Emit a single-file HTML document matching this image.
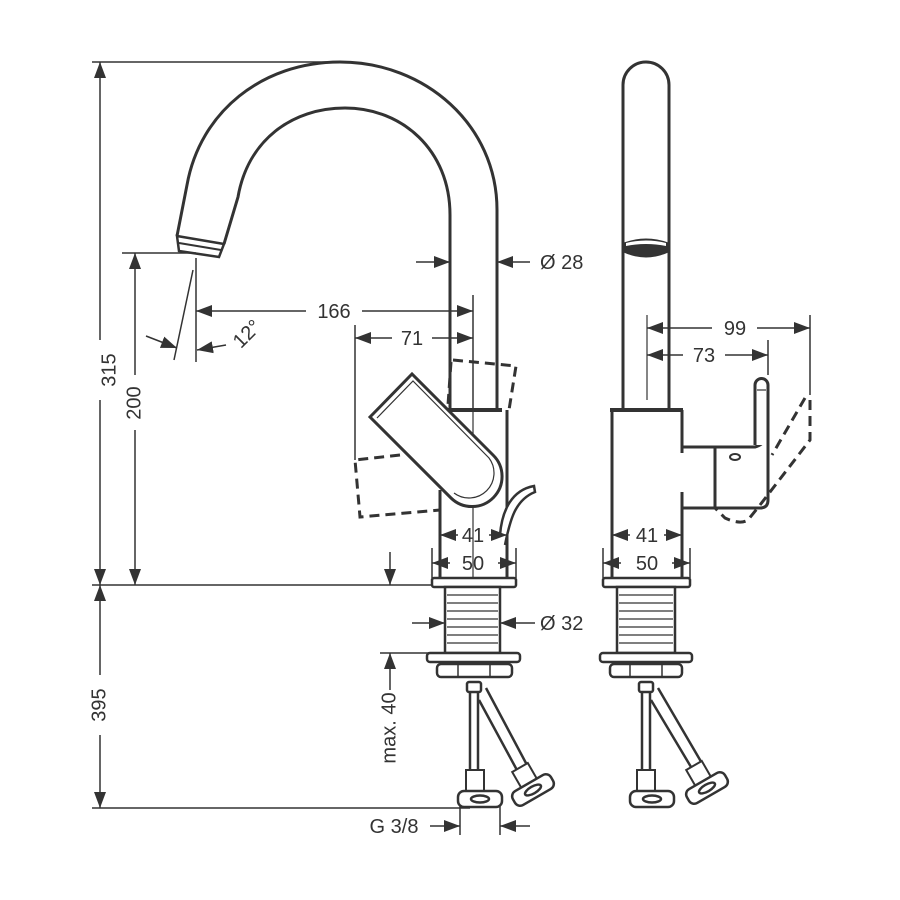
<!DOCTYPE html>
<html><head><meta charset="utf-8"><style>
html,body{margin:0;padding:0;background:#fff}
svg{display:block}
text{font-family:"Liberation Sans",sans-serif;font-size:20px;fill:#333}
</style></head><body>
<svg width="900" height="900" viewBox="0 0 900 900" xmlns="http://www.w3.org/2000/svg">
<defs>
<marker id="a" viewBox="0 0 16 12" refX="16" refY="6" markerWidth="16" markerHeight="12" markerUnits="userSpaceOnUse" orient="auto-start-reverse"><path d="M0 0L16 6L0 12Z" fill="#333"/></marker>
</defs>
<g stroke="#333" fill="none" stroke-width="1.5">
<line x1="92" y1="62" x2="335" y2="62"/>
<line x1="100" y1="62" x2="100" y2="340" marker-start="url(#a)"/>
<line x1="100" y1="400" x2="100" y2="585" marker-end="url(#a)"/>
<line x1="92" y1="585" x2="432" y2="585"/>
<line x1="122" y1="253" x2="196" y2="253"/>
<line x1="135" y1="253" x2="135" y2="375" marker-start="url(#a)"/>
<line x1="135" y1="430" x2="135" y2="585" marker-end="url(#a)"/>
<line x1="100" y1="585" x2="100" y2="675" marker-start="url(#a)"/>
<line x1="100" y1="735" x2="100" y2="808" marker-end="url(#a)"/>
<line x1="92" y1="808" x2="470" y2="808"/>
<line x1="196" y1="258" x2="196" y2="362"/>
<line x1="306" y1="311" x2="196" y2="311" marker-end="url(#a)"/>
<line x1="362" y1="311" x2="473" y2="311" marker-end="url(#a)"/>
<line x1="473" y1="295" x2="473" y2="410"/>
<line x1="355" y1="325" x2="355" y2="460"/>
<line x1="392" y1="338" x2="355" y2="338" marker-end="url(#a)"/>
<line x1="432" y1="338" x2="473" y2="338" marker-end="url(#a)"/>
<line x1="193" y1="270" x2="174" y2="360"/>
<line x1="146" y1="336" x2="177" y2="348" marker-end="url(#a)"/>
<line x1="226" y1="345" x2="197" y2="350" marker-end="url(#a)"/>
<line x1="416" y1="262" x2="450" y2="262" marker-end="url(#a)"/>
<line x1="530" y1="262" x2="497" y2="262" marker-end="url(#a)"/>
</g>
<g stroke="#333" fill="none" stroke-width="3">
<path d="M497 410 L497 210 C497 125 425 62 340 62 C262 62 200 112 187 185 L177 236"/>
<path d="M450 410 L450 215 C450 150 402 108 345 108 C292 108 248 140 238 197 L224 244"/>
<path d="M177 236 L224 244 L219 257 L179 251 Z" stroke-width="2.5"/>
<line x1="179" y1="243" x2="221" y2="250" stroke-width="2"/>
</g>
<g stroke="#333" fill="none">
<line x1="473" y1="410" x2="473" y2="580" stroke-width="1.2"/>
<line x1="448" y1="410" x2="502" y2="410" stroke-width="4"/>
<line x1="440" y1="490" x2="440" y2="580" stroke-width="3"/>
<line x1="507" y1="410" x2="507" y2="580" stroke-width="3"/>
<path d="M453 360 L516 366 L509 410" stroke-width="3" stroke-dasharray="10 6"/>
<line x1="451" y1="362" x2="448" y2="405" stroke-width="3" stroke-dasharray="10 6"/>
<path d="M400 455 L355 460 L360 517 L440 510" stroke-width="3" stroke-dasharray="10 6"/>
<path d="M370 417 L412 374 L493 455 A30 30 0 0 1 451 498 Z" fill="#fff" stroke-width="3"/>
<path d="M377 418 L413 381 L489 458 A25 25 0 0 1 454 493" stroke-width="1.2"/>
<path d="M505 545 C510 520 515 500 535 492 L534 486 C512 490 502 510 500 535" stroke-width="2.5" fill="#fff"/>
</g>
<g stroke="#333" fill="none" stroke-width="1.5">
<line x1="458" y1="535" x2="440" y2="535" marker-end="url(#a)"/>
<line x1="489" y1="535" x2="507" y2="535" marker-end="url(#a)"/>
<line x1="432" y1="548" x2="432" y2="578"/>
<line x1="516" y1="548" x2="516" y2="578"/>
<line x1="450" y1="563" x2="432" y2="563" marker-end="url(#a)"/>
<line x1="498" y1="563" x2="516" y2="563" marker-end="url(#a)"/>
<line x1="390" y1="552" x2="390" y2="585" marker-end="url(#a)"/>
<line x1="380" y1="653" x2="430" y2="653"/>
<line x1="390" y1="690" x2="390" y2="653" marker-end="url(#a)"/>
<line x1="412" y1="623" x2="445" y2="623" marker-end="url(#a)"/>
<line x1="535" y1="623" x2="500" y2="623" marker-end="url(#a)"/>
<line x1="460" y1="800" x2="460" y2="835"/>
<line x1="500" y1="800" x2="500" y2="835"/>
<line x1="430" y1="826" x2="460" y2="826" marker-end="url(#a)"/>
<line x1="530" y1="826" x2="500" y2="826" marker-end="url(#a)"/>
</g>
<g stroke="#333" fill="#fff" stroke-width="2.5">
<rect x="432" y="578" width="84" height="9" rx="2"/>
<rect x="445" y="587" width="55" height="66"/>
<path d="M447 595H498M447 603H498M447 611H498M447 619H498M447 627H498M447 635H498M447 643H498" stroke-width="1.2"/>
<rect x="427" y="653" width="93" height="9" rx="3"/>
<rect x="437" y="664" width="75" height="13" rx="4"/>
<path d="M458 664V677M490 664V677" stroke-width="1.5"/>
<rect x="467" y="682" width="14" height="10" rx="2"/>
<line x1="470" y1="692" x2="470" y2="770"/>
<line x1="478" y1="692" x2="478" y2="770"/>
<path d="M486 688 L527 765 M479 700 L518 772"/>
<rect x="466" y="770" width="18" height="22" stroke-width="2"/>
<rect x="458" y="791" width="44" height="16" rx="6"/>
<ellipse cx="480" cy="799" rx="9" ry="3.5"/>
<g transform="rotate(-30 533 790)"><rect x="524" y="764" width="18" height="18" stroke-width="2"/><rect x="511" y="782" width="44" height="16" rx="6"/><ellipse cx="533" cy="790" rx="9" ry="3.5"/></g>
</g>
<g stroke="#333" fill="none" stroke-width="3">
<path d="M623 410 L623 85 A23 23 0 0 1 669 85 L669 410"/>
<path d="M624 243 Q646 235 668 243 L668 252 Q646 262 624 252 Z" fill="#333" stroke-width="1"/>
<path d="M626 243 Q646 238 666 243 L666 246 Q646 242 626 246 Z" fill="#fff" stroke="none"/>
<line x1="647" y1="315" x2="647" y2="400" stroke-width="1.2"/>
<line x1="610" y1="410" x2="683" y2="410" stroke-width="4"/>
<line x1="612" y1="410" x2="612" y2="580"/>
<path d="M682 410 L682 453 M682 492 L682 580"/>
<path d="M682 447 L755 447 Q762 445 765 440 M682 508 L715 508 L715 447 M715 508 L760 508 Q768 508 768 500 L768 445"/>
<path d="M755 445 L755 385 A6.5 6.5 0 0 1 768 385 L768 445" fill="#fff"/>
<line x1="757" y1="390" x2="766" y2="390" stroke-width="1.2"/>
<ellipse cx="735" cy="457" rx="5" ry="3" stroke-width="2"/>
<path d="M805 398 L772 455 M810 400 L810 440 L760 505 L748 520 Q740 525 725 518 L715 508" stroke-dasharray="10 6"/>
</g>
<g stroke="#333" fill="none" stroke-width="1.5">
<line x1="810" y1="315" x2="810" y2="395"/>
<line x1="768" y1="340" x2="768" y2="375"/>
<line x1="712" y1="328" x2="647" y2="328" marker-end="url(#a)"/>
<line x1="757" y1="328" x2="810" y2="328" marker-end="url(#a)"/>
<line x1="683" y1="355" x2="647" y2="355" marker-end="url(#a)"/>
<line x1="725" y1="355" x2="768" y2="355" marker-end="url(#a)"/>
<line x1="630" y1="535" x2="612" y2="535" marker-end="url(#a)"/>
<line x1="664" y1="535" x2="682" y2="535" marker-end="url(#a)"/>
<line x1="603" y1="548" x2="603" y2="578"/>
<line x1="690" y1="548" x2="690" y2="578"/>
<line x1="621" y1="563" x2="603" y2="563" marker-end="url(#a)"/>
<line x1="672" y1="563" x2="690" y2="563" marker-end="url(#a)"/>
</g>
<g stroke="#333" fill="#fff" stroke-width="2.5">
<rect x="603" y="578" width="87" height="9" rx="2"/>
<rect x="617" y="587" width="58" height="66"/>
<path d="M619 595H673M619 603H673M619 611H673M619 619H673M619 627H673M619 635H673M619 643H673" stroke-width="1.2"/>
<rect x="600" y="653" width="92" height="9" rx="3"/>
<rect x="610" y="664" width="72" height="13" rx="4"/>
<path d="M630 664V677M662 664V677" stroke-width="1.5"/>
<rect x="639" y="682" width="14" height="10" rx="2"/>
<line x1="642" y1="692" x2="642" y2="770"/>
<line x1="650" y1="692" x2="650" y2="770"/>
<path d="M658 688 L703 765 M651 700 L694 772"/>
<rect x="637" y="770" width="18" height="22" stroke-width="2"/>
<rect x="630" y="791" width="44" height="16" rx="6"/>
<ellipse cx="652" cy="799" rx="9" ry="3.5"/>
<g transform="rotate(-30 707 788)"><rect x="698" y="762" width="18" height="18" stroke-width="2"/><rect x="685" y="780" width="44" height="16" rx="6"/><ellipse cx="707" cy="788" rx="9" ry="3.5"/></g>
</g>
<text x="110" y="370" text-anchor="middle" transform="rotate(-90 110 370)" dominant-baseline="middle">315</text>
<text x="135" y="403" text-anchor="middle" transform="rotate(-90 135 403)" dominant-baseline="middle">200</text>
<text x="100" y="705" text-anchor="middle" transform="rotate(-90 100 705)" dominant-baseline="middle">395</text>
<text x="390" y="728" text-anchor="middle" transform="rotate(-90 390 728)" dominant-baseline="middle">max. 40</text>
<text x="334" y="318" text-anchor="middle">166</text>
<text x="412" y="345" text-anchor="middle">71</text>
<text x="248" y="340" text-anchor="middle" transform="rotate(-45 248 335)">12°</text>
<text x="540" y="269">Ø 28</text>
<text x="540" y="630">Ø 32</text>
<text x="473" y="542" text-anchor="middle">41</text>
<text x="473" y="570" text-anchor="middle">50</text>
<text x="647" y="542" text-anchor="middle">41</text>
<text x="647" y="570" text-anchor="middle">50</text>
<text x="735" y="335" text-anchor="middle">99</text>
<text x="704" y="362" text-anchor="middle">73</text>
<text x="394" y="833" text-anchor="middle">G 3/8</text>
</svg>
</body></html>
